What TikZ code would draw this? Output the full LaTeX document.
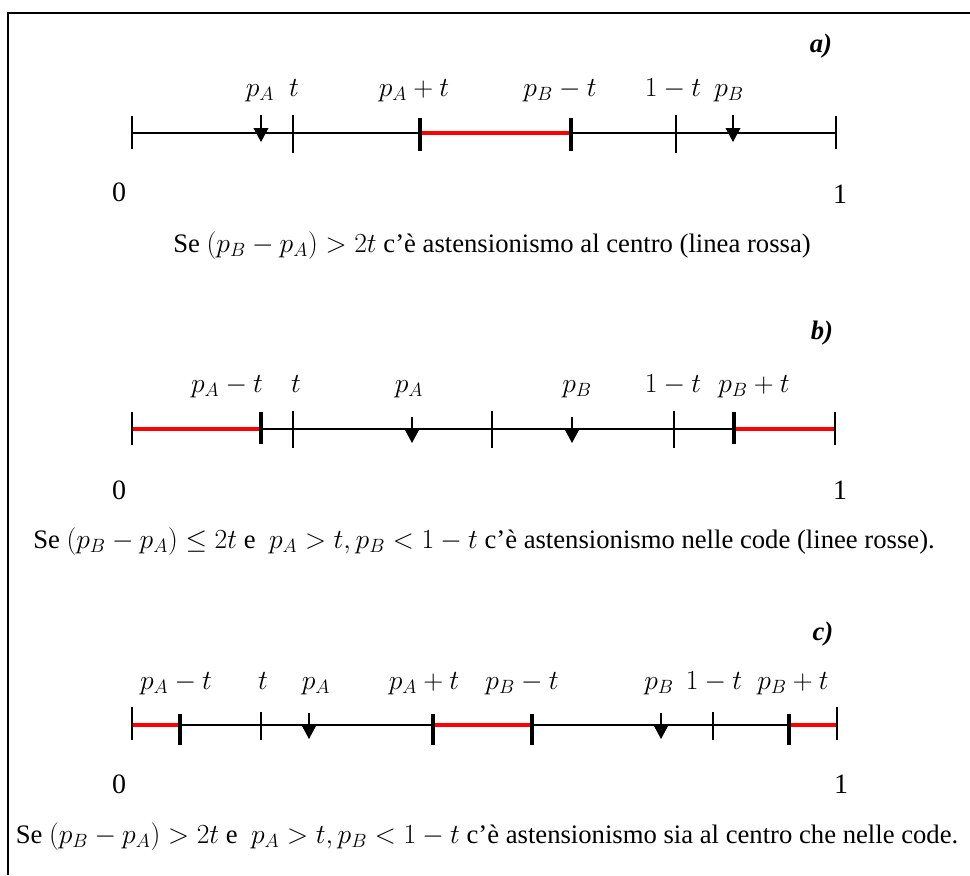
\documentclass[tikz,border=0pt]{standalone}
\usepackage{fontspec}
\setmainfont{Liberation Serif}
\usepackage{amsmath,amssymb}
\usetikzlibrary{arrows.meta}

\begin{document}
\begin{tikzpicture}[x=0.75pt, y=-0.75pt,
  axis/.style={line width=1pt},
  endtick/.style={line width=0.8pt},
  thintick/.style={line width=0.8pt},
  thicktick/.style={line width=3pt},
  redseg/.style={line width=2.8pt, red},
  pointer/.style={line width=1.1pt, -{Triangle[width=11pt, length=10.5pt]}},
  valuelab/.style={anchor=base, font=\fontsize{20.5}{23}\selectfont},
  endlab/.style={font=\fontsize{21}{24}\selectfont},
  captxt/.style={anchor=base, font=\fontsize{20}{24}\selectfont},
  panellab/.style={font=\fontsize{20}{24}\selectfont\bfseries\itshape}]
  \useasboundingbox (0,0) rectangle (970,875);
  % Frame
  \draw[line width=1.2pt] (8,875) -- (8,13) -- (970,13);

  % a) abstention in the centre
  \begin{scope}[shift={(0,133)}]
    \draw[axis] (132,0) -- (836,0);
    \draw[redseg] (420,0) -- (571,0);
    \foreach \x in {132,836} \draw[endtick] (\x,-17) -- (\x,16);
    \foreach \x in {293,676} \draw[thintick] (\x,-18) -- (\x,20);
    \foreach \x in {420,571} \draw[thicktick] (\x,-15) -- (\x,18);
    \foreach \x in {261,733} \draw[pointer] (\x,-18) -- (\x,9);
    % Labels
    \node[valuelab] (a-pA) at (260,-37) {$p_A$};
    \node[valuelab] (a-t) at (294,-37) {$t$};
    \node[valuelab] (a-pAt) at (414,-37) {$p_A+t$};
    \node[valuelab] (a-pBt) at (560,-37) {$p_B-t$};
    \node[valuelab] (a-1t) at (673,-37) {$1-t$};
    \node[valuelab] (a-pB) at (729,-37) {$p_B$};
    \node[endlab] (a-zero) at (119,59) {0};
    \node[endlab] (a-one) at (840,61) {1};
    \node[captxt] (a-txt) at (492,119) {Se $(p_B-p_A)>2t$ c'è astensionismo al centro (linea rossa)};
    \node[panellab] (a-name) at (821,-87) {a)};
  \end{scope}

  % b) abstention in the tails
  \begin{scope}[shift={(0,429)}]
    \draw[axis] (132,0) -- (835,0);
    \draw[redseg] (132,0) -- (261,0);
    \draw[redseg] (734,0) -- (835,0);
    \foreach \x in {132,835} \draw[endtick] (\x,-17) -- (\x,16);
    \foreach \x in {293,492,674} \draw[thintick] (\x,-18) -- (\x,19);
    \foreach \x in {261,734} \draw[thicktick] (\x,-17) -- (\x,15);
    \foreach \x in {412,572} \draw[pointer] (\x,-12) -- (\x,14);
    % Labels
    \node[valuelab] (b-pAt) at (227,-37) {$p_A-t$};
    \node[valuelab] (b-t) at (296,-37) {$t$};
    \node[valuelab] (b-pA) at (409,-37) {$p_A$};
    \node[valuelab] (b-pB) at (577,-37) {$p_B$};
    \node[valuelab] (b-1t) at (673,-37) {$1-t$};
    \node[valuelab] (b-pBt) at (754,-37) {$p_B+t$};
    \node[endlab] (b-zero) at (119,61) {0};
    \node[endlab] (b-one) at (840,61) {1};
    \node[captxt] (b-txt) at (484,119) {Se $(p_B-p_A)\leq 2t$ e\ \ $p_A>t, p_B<1-t$ c'è astensionismo nelle code (linee rosse).};
    \node[panellab] (b-name) at (822,-96) {b)};
  \end{scope}

  % c) abstention in the centre and in the tails
  \begin{scope}[shift={(0,725)}]
    \draw[axis] (132,0) -- (837,0);
    \draw[redseg] (132,0) -- (180,0);
    \draw[redseg] (433,0) -- (532,0);
    \draw[redseg] (789,0) -- (837,0);
    \foreach \x in {132,837} \draw[endtick] (\x,-18) -- (\x,15);
    \foreach \x in {261,713} \draw[thintick] (\x,-13) -- (\x,15);
    \foreach \x in {180,433,532,789} \draw[thicktick] (\x,-11) -- (\x,20);
    \foreach \x in {309,661} \draw[pointer] (\x,-12) -- (\x,14);
    % Labels
    \node[valuelab] (c-pAt) at (176,-36) {$p_A-t$};
    \node[valuelab] (c-t) at (263,-36) {$t$};
    \node[valuelab] (c-pA) at (316,-36) {$p_A$};
    \node[valuelab] (c-pApt) at (424,-36) {$p_A+t$};
    \node[valuelab] (c-pBt) at (522,-36) {$p_B-t$};
    \node[valuelab] (c-pB) at (659,-36) {$p_B$};
    \node[valuelab] (c-1t) at (714,-36) {$1-t$};
    \node[valuelab] (c-pBpt) at (793,-36) {$p_B+t$};
    \node[endlab] (c-zero) at (119,59) {0};
    \node[endlab] (c-one) at (841,59) {1};
    \node[captxt] (c-txt) at (487,118) {Se $(p_B-p_A)>2t$ e\ \ $p_A>t, p_B<1-t$ c'è astensionismo sia al centro che nelle code.};
    \node[panellab] (c-name) at (823,-91) {c)};
  \end{scope}
\end{tikzpicture}
\end{document}
